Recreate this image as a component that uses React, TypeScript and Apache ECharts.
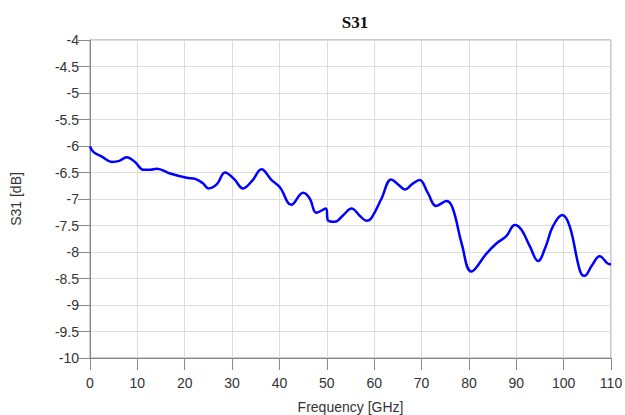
import React, { useEffect, useRef } from "react";
import * as echarts from "echarts";

const freqGHz = [0, 0.7, 2.5, 4.6, 6.2, 7.7, 9.5, 11.3, 12.7, 14.1, 16.9, 20.4, 22.2, 23.8, 25, 26.8, 28.5, 30.4, 32.3, 34.3, 36.2, 38.3, 40.1, 42.5, 45, 46.4, 47.8, 49.8, 50.3, 51.7, 53.5, 55.2, 57, 58.4, 59.4, 61.5, 63.6, 65, 66.5, 68, 69.6, 71.3, 73.1, 75.3, 76.6, 78.5, 80.5, 83.7, 85.8, 87.9, 89.7, 91.1, 92.9, 94.6, 96.2, 97.7, 99.7, 101.3, 103.4, 104.4, 106, 107.6, 109.7, 110];
const s31dB = [-6.01, -6.11, -6.2, -6.3, -6.28, -6.21, -6.3, -6.45, -6.45, -6.43, -6.52, -6.6, -6.62, -6.7, -6.8, -6.72, -6.5, -6.62, -6.8, -6.65, -6.44, -6.64, -6.78, -7.11, -6.88, -6.99, -7.26, -7.18, -7.41, -7.43, -7.3, -7.18, -7.32, -7.41, -7.36, -7.0, -6.63, -6.72, -6.82, -6.72, -6.64, -6.88, -7.13, -7.04, -7.18, -7.85, -8.37, -8.03, -7.84, -7.7, -7.49, -7.58, -7.9, -8.17, -7.9, -7.52, -7.3, -7.52, -8.34, -8.45, -8.25, -8.08, -8.23, -8.23];
const xTicks = { min: 0, max: 110, interval: 10 };
const yTicks = { min: -10, max: -4, interval: 0.5 };

export default function App() {
  const ref = useRef<HTMLDivElement>(null);
  useEffect(() => {
    if (!ref.current) return;
    const chart = echarts.init(ref.current, null, { renderer: "svg" });
    const axisLabel = { color: "#333", fontSize: 14, fontFamily: "Liberation Sans, Arial, sans-serif" };
    chart.setOption({
      animation: false,
      backgroundColor: "#fff",
      title: {
        text: "S31",
        left: 350,
        top: 9,
        textAlign: "center",
        textStyle: { fontFamily: "Liberation Serif, Times New Roman, serif", fontWeight: "bold", fontSize: 17, color: "#111" },
      },
      grid: {
        left: 90,
        right: 14,
        top: 40,
        bottom: 57,
        show: true,
        borderColor: "#999",
        borderWidth: 1,
        containLabel: false,
        outerBoundsMode: "none",
      },
      xAxis: {
        type: "value",
        min: xTicks.min,
        max: xTicks.max,
        interval: xTicks.interval,
        name: "Frequency [GHz]",
        nameLocation: "middle",
        nameGap: 42,
        nameTextStyle: { ...axisLabel },
        axisLine: { onZero: false, lineStyle: { color: "#888" } },
        axisTick: { show: true, length: 12, lineStyle: { color: "#888" } },
        axisLabel: { ...axisLabel, margin: 18 },
        splitLine: { show: true, lineStyle: { color: "#ddd" } },
      },
      yAxis: {
        type: "value",
        min: yTicks.min,
        max: yTicks.max,
        interval: yTicks.interval,
        name: "S31 [dB]",
        nameLocation: "middle",
        nameGap: 67,
        nameTextStyle: { ...axisLabel },
        axisLine: { show: true, lineStyle: { color: "#888" } },
        axisTick: { show: true, length: 12, lineStyle: { color: "#888" } },
        axisLabel: { ...axisLabel, margin: 11 },
        splitLine: { show: true, lineStyle: { color: "#ddd" } },
      },
      series: [
        {
          type: "line",
          data: freqGHz.map((f, i) => [f, s31dB[i]]),
          smooth: 0.4,
          showSymbol: false,
          lineStyle: { color: "#0000ff", width: 2.5 },
        },
      ],
    });
    return () => chart.dispose();
  }, []);
  return <div ref={ref} style={{ width: 625, height: 415, position: "absolute", left: 0, top: 0 }} />;
}
